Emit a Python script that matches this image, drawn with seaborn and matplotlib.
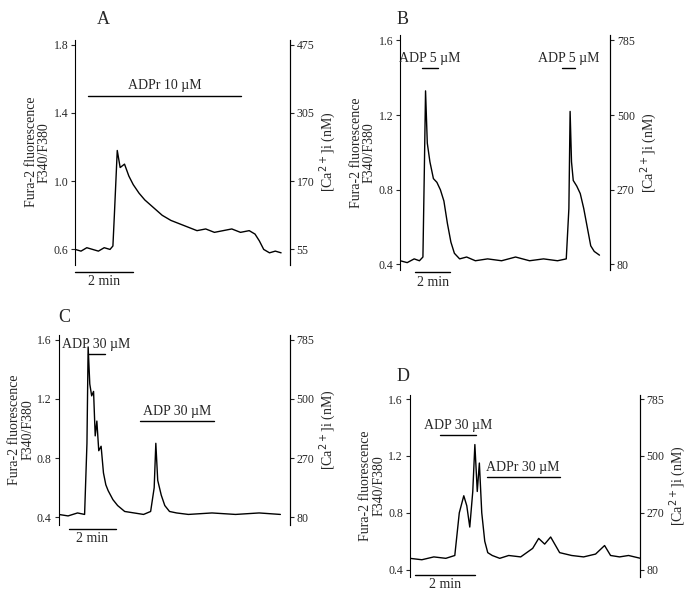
import matplotlib
matplotlib.use("Agg")
import matplotlib.pyplot as plt
import seaborn as sns

sns.set_style("white")
plt.rcParams['font.family'] = ['Liberation Serif', 'DejaVu Serif']

# traces: time (min) and F340/F380 ratio
a_t = [0, .2, .4, .6, .8, 1.0, 1.2, 1.3, 1.35, 1.45, 1.55, 1.7, 1.85, 2.0, 2.2, 2.4, 2.6, 2.8, 3.0, 3.3, 3.6, 3.9,
       4.2, 4.5, 4.8, 5.1, 5.4, 5.7, 6.0, 6.2, 6.35, 6.5, 6.7, 6.9, 7.1]
a_v = [.60, .59, .61, .60, .59, .61, .60, .62, .80, 1.18, 1.08, 1.10, 1.03, .98, .93, .89, .86, .83, .80, .77, .75,
       .73, .71, .72, .70, .71, .72, .70, .71, .69, .65, .60, .58, .59, .58]
b_t = [0, .4, .8, 1.1, 1.3, 1.38, 1.45, 1.55, 1.7, 1.9, 2.1, 2.3, 2.5, 2.7, 2.9, 3.1, 3.4, 3.8, 4.3, 5, 5.8, 6.6,
       7.4, 8.2, 9, 9.5, 9.65, 9.72, 9.8, 9.9, 10.1, 10.3, 10.5, 10.7, 10.9, 11.1, 11.4]
b_v = [.42, .41, .43, .42, .44, .9, 1.33, 1.05, .95, .86, .84, .80, .74, .62, .52, .46, .43, .44, .42, .43, .42, .44,
       .42, .43, .42, .43, .7, 1.22, .95, .85, .82, .78, .70, .60, .50, .47, .45]
c_t = [0, .4, .8, 1.1, 1.2, 1.25, 1.32, 1.4, 1.48, 1.55, 1.62, 1.7, 1.8, 1.9, 2.0, 2.1, 2.3, 2.5, 2.8, 3.2, 3.6,
       3.9, 4.05, 4.12, 4.2, 4.35, 4.5, 4.7, 5.0, 5.5, 6.5, 7.5, 8.5, 9.4]
c_v = [.42, .41, .43, .42, .9, 1.55, 1.3, 1.22, 1.25, .95, 1.05, .85, .88, .70, .62, .58, .52, .48, .44, .43, .42,
       .44, .6, .90, .65, .55, .48, .44, .43, .42, .43, .42, .43, .42]
d_t = [0, .4, .8, 1.2, 1.5, 1.65, 1.8, 1.9, 2.0, 2.1, 2.17, 2.25, 2.32, 2.4, 2.5, 2.6, 2.75, 3.0, 3.3, 3.7, 4.1,
       4.3, 4.5, 4.7, 5.0, 5.4, 5.8, 6.2, 6.5, 6.7, 7.0, 7.3, 7.7]
d_v = [.48, .47, .49, .48, .50, .80, .92, .85, .70, .95, 1.28, .95, 1.15, .80, .60, .52, .50, .48, .50, .49, .55,
       .62, .58, .63, .52, .50, .49, .51, .57, .50, .49, .50, .48]

# stimulus bars: (start, end, y, label)
a_stim = [(0.45, 5.7, 1.5, "ADPr 10 µM")]
b_stim = [(1.26, 2.17, 1.45, "ADP 5 µM"), (9.26, 10.0, 1.45, "ADP 5 µM")]
c_stim = [(1.25, 1.96, 1.5, "ADP 30 µM"), (3.46, 6.6, 1.05, "ADP 30 µM")]
d_stim = [(1.0, 2.2, 1.35, "ADP 30 µM"), (2.57, 5.0, 1.05, "ADPr 30 µM")]

a_ticks = [0.6, 1.0, 1.4, 1.8]
a_right = ["55", "170", "305", "475"]
bcd_ticks = [0.4, 0.8, 1.2, 1.6]
bcd_right = ["80", "270", "500", "785"]

fig = plt.figure(figsize=(6.9, 5.91), dpi=100)

panels = [
    ("A", [0.109, 0.552, 0.311, 0.381], a_t, a_v, a_stim, (0, 7.4), (0.51, 1.83), a_ticks, a_right, (0, 2), 0.47),
    ("B", [0.58, 0.543, 0.304, 0.398], b_t, b_v, b_stim, (0, 12), (0.37, 1.63), bcd_ticks, bcd_right, (0.86, 2.86), 0.36),
    ("C", [0.085, 0.112, 0.335, 0.321], c_t, c_v, c_stim, (0, 9.8), (0.35, 1.63), bcd_ticks, bcd_right, (0.42, 2.42), 0.32),
    ("D", [0.594, 0.024, 0.333, 0.308], d_t, d_v, d_stim, (0, 7.67), (0.35, 1.63), bcd_ticks, bcd_right, (0.17, 2.17), 0.36),
]
letter_pos = {"A": (0.14, 0.96), "B": (0.575, 0.96), "C": (0.085, 0.455), "D": (0.575, 0.355)}

for name, rect, t, v, stim, xl, yl, ticks, rlabels, sbar, sby in panels:
    ax = fig.add_axes(rect)
    sns.lineplot(x=t, y=v, ax=ax, color="black", lw=1)
    ax.set_xlim(*xl)
    ax.set_ylim(*yl)
    for s in ["top", "bottom"]:
        ax.spines[s].set_visible(False)
    ax.spines["left"].set_color("black")
    ax.set_xticks([])
    ax.set_yticks(ticks)
    ax.tick_params(axis="y", direction="out", length=3, labelsize=8.5, left=True, pad=2)
    ax.set_ylabel("Fura-2 fluorescence\nF340/F380", fontsize=10, labelpad=2, linespacing=1.0)
    ax2 = ax.twinx()
    ax2.set_ylim(*yl)
    ax2.set_yticks(ticks)
    ax2.set_yticklabels(rlabels)
    ax2.tick_params(axis="y", direction="out", length=3, labelsize=8.5, right=True, pad=2)
    for s in ["top", "bottom", "left"]:
        ax2.spines[s].set_visible(False)
    ax2.spines["right"].set_color("black")
    ax2.set_ylabel("[Ca$^{2+}$]i (nM)", fontsize=10, labelpad=2)
    for x0, x1, y, lab in stim:
        ax.plot([x0, x1], [y, y], color="black", lw=1)
        ax.text((x0 + x1) / 2, y + 0.02, lab, ha="center", va="bottom", fontsize=10)
    ax.plot(sbar, [sby, sby], color="black", lw=1, clip_on=False)
    ax.text(sum(sbar) / 2, sby - 0.02, "2 min", ha="center", va="top", fontsize=10)
    fig.text(*letter_pos[name], name, fontsize=13)

fig.savefig("out.png", dpi=100)
